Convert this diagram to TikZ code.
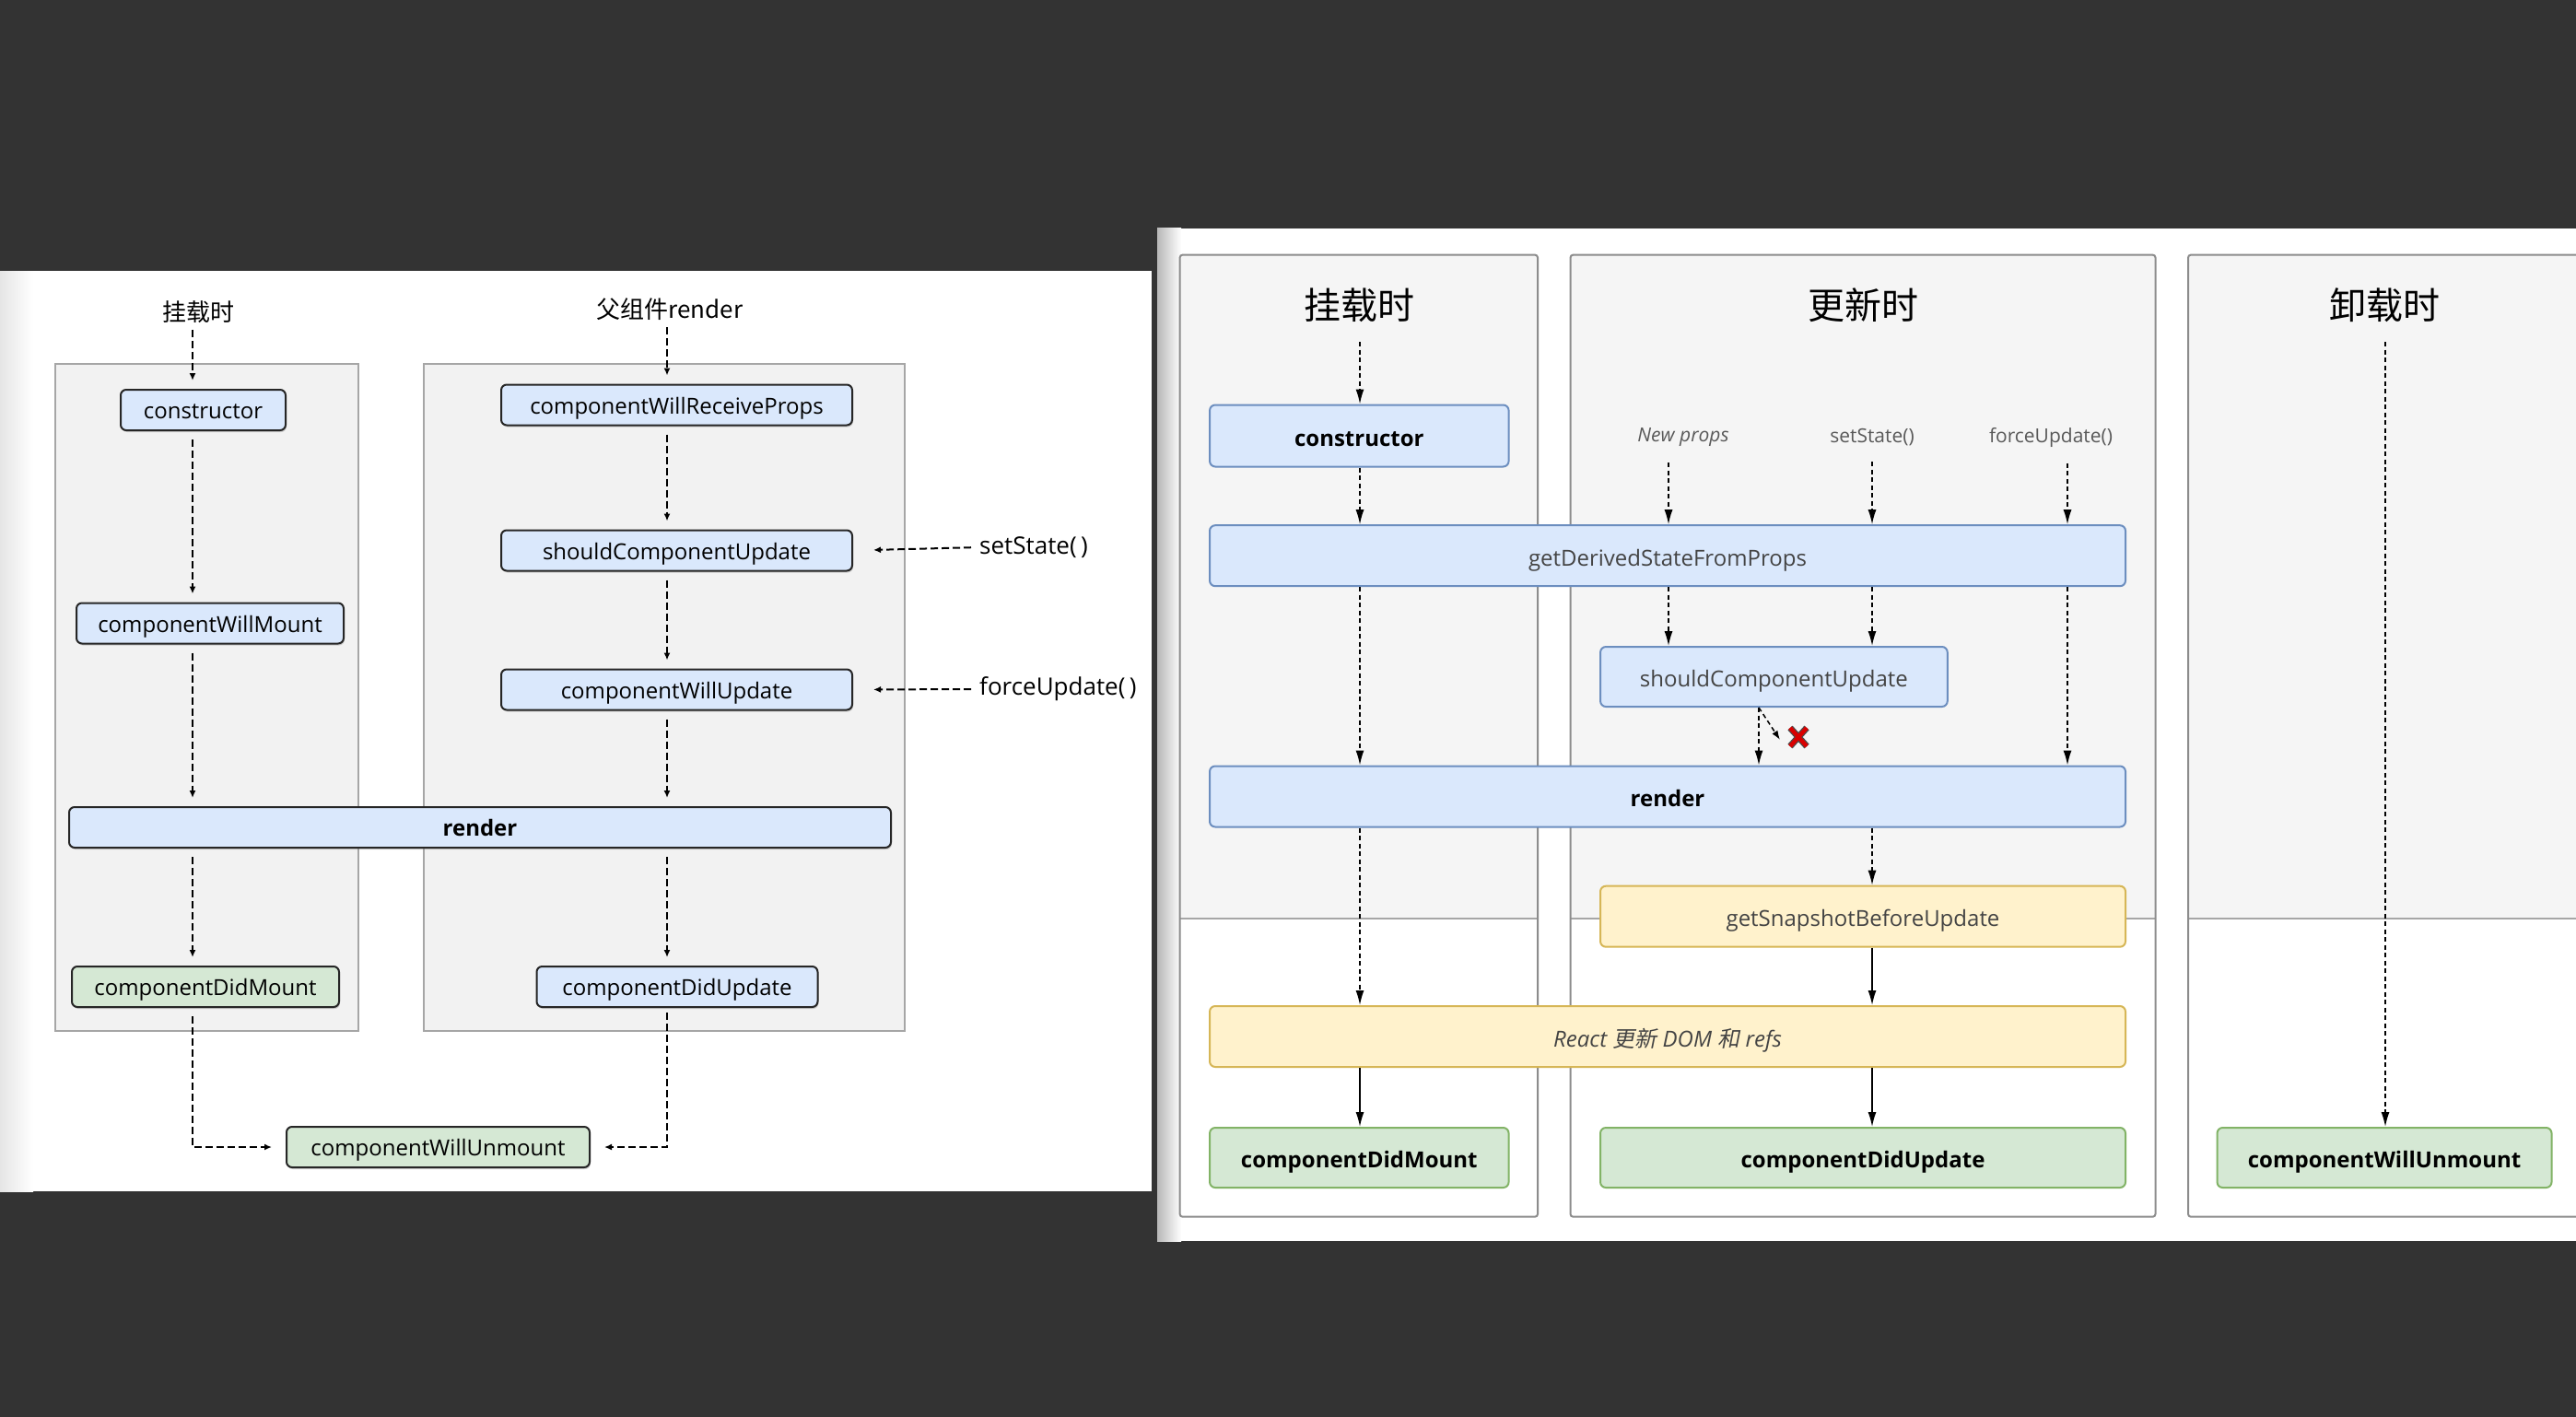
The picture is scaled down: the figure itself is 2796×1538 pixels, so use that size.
\documentclass[tikz,border=0pt]{standalone}
\usepackage{fontspec}
\setmainfont{Open Sans}
\newfontfamily\cjk{Noto Sans CJK SC}
\newfontfamily\cjkit[FakeSlant=0.2]{Noto Sans CJK SC}
\usetikzlibrary{arrows.meta,shadows}

\definecolor{darkbg}{HTML}{333333}
\definecolor{boxblue}{HTML}{DAE8FC}
\definecolor{lineblue}{HTML}{6C8EBF}
\definecolor{boxgreen}{HTML}{D5E8D4}
\definecolor{linegreen}{HTML}{82B366}
\definecolor{boxyellow}{HTML}{FFF2CC}
\definecolor{lineyellow}{HTML}{D6B656}
\definecolor{colfill}{HTML}{F5F5F5}
\definecolor{oldfill}{HTML}{F2F2F2}
\definecolor{textgray}{HTML}{444444}

\tikzset{
  oldbox/.style={draw=black!85, line width=2pt, rounded corners=6pt, fill=boxblue,
    minimum height=44pt, inner sep=0pt, text height=19pt, text depth=0pt,
    font=\fontsize{24}{28}\selectfont,
    drop shadow={shadow xshift=1pt, shadow yshift=-2pt, opacity=0.35}},
  oldgreen/.style={oldbox, fill=boxgreen},
  oldcol/.style={draw=black!35, line width=2pt, fill=oldfill},
  oldtitle/.style={font=\cjk\fontsize{26}{30}\selectfont, inner sep=3pt},
  oldlabel/.style={font=\fontsize{26}{30}\selectfont, inner sep=0pt, anchor=west},
  oldarrow/.style={-{Latex[length=8pt,width=7pt]}, line width=2pt,
    dash pattern=on 8pt off 4pt, shorten <=9pt, shorten >=9pt},
  newbox/.style={draw=lineblue, line width=2pt, rounded corners=6pt, fill=boxblue,
    inner sep=0pt, text height=22pt, text depth=0pt, text=textgray,
    font=\fontsize{24}{28}\selectfont},
  newgreen/.style={newbox, draw=linegreen, fill=boxgreen, text=black, font=\bfseries\fontsize{24}{28}\selectfont},
  newyellow/.style={newbox, draw=lineyellow, fill=boxyellow},
  newtitle/.style={font=\cjk\fontsize{40}{46}\selectfont, inner sep=3pt},
  newlabel/.style={font=\fontsize{21}{25}\selectfont, text=black!65, inner sep=3pt},
  newcol/.style={draw=black!45, line width=2pt, rounded corners=3pt},
  newarrow/.style={-{Latex[length=16pt,width=9pt]}, line width=1.5pt, dash pattern=on 5pt off 3.5pt},
  solidarrow/.style={-{Latex[length=16pt,width=9pt]}, line width=1.5pt}
}

\begin{document}
\begin{tikzpicture}[x=1pt,y=-1pt]

\clip (0,0) rectangle (2796,1538);
\fill [darkbg] (0,0) rectangle (2796,1538);
\fill [white] (0,294) rectangle (1250,1293);
\shade [left color=black!10, right color=white] (0,294) rectangle (36,1293);
\fill [white] (1256,248) rectangle (2796,1347);
\shade [left color=black!28, right color=white] (1256,248) rectangle (1282,1347);

%% old lifecycle
\draw [oldcol] (59.5,395) rectangle (389,1119);
\draw [oldcol] (460,395) rectangle (981.5,1119);

\node [oldtitle] (lmount) at (215,338.5) {挂载时};
\node [oldtitle] (lparent) at (727,336) {父组件render};

\node [oldbox, minimum width=179pt] (lcons) at (220.5,445) {constructor};
\node [oldbox, minimum width=290pt] (lcwm) at (228,676.5) {componentWillMount};
\node [oldbox, minimum width=892pt, font=\bfseries\fontsize{24}{28}\selectfont] (lrender) at (521,898) {render};
\node [oldgreen, minimum width=290pt] (lcdm) at (223,1071) {componentDidMount};

\node [oldbox, minimum width=381pt] (lcwrp) at (734.5,439.5) {componentWillReceiveProps};
\node [oldbox, minimum width=381pt] (lscu) at (734.5,597.5) {shouldComponentUpdate};
\node [oldbox, minimum width=381pt] (lcwu) at (734.5,748.5) {componentWillUpdate};
\node [oldbox, minimum width=305pt] (lcdu) at (735,1071) {componentDidUpdate};
\node [oldgreen, minimum width=329pt] (lcwun) at (475.5,1245) {componentWillUnmount};

\node [oldlabel] (lset) at (1063,594) {setState(\,)};
\node [oldlabel] (lforce) at (1063,748) {forceUpdate(\,)};

\coordinate (lmx) at (209,0);
\coordinate (lux) at (724,0);

\draw [oldarrow, shorten <=4pt] (lmount.south -| lmx) -- (lcons.north -| lmx);
\draw [oldarrow] (lcons.south -| lmx) -- (lcwm.north -| lmx);
\draw [oldarrow] (lcwm.south -| lmx) -- (lrender.north -| lmx);
\draw [oldarrow] (lrender.south -| lmx) -- (lcdm.north -| lmx);
\draw [oldarrow, shorten >=15pt] (lcdm.south -| lmx) |- (lcwun.west);

\draw [oldarrow, shorten <=4pt] (lparent.south -| lux) -- (lcwrp.north -| lux);
\draw [oldarrow] (lcwrp.south -| lux) -- (lscu.north -| lux);
\draw [oldarrow] (lscu.south -| lux) -- (lcwu.north -| lux);
\draw [oldarrow] (lcwu.south -| lux) -- (lrender.north -| lux);
\draw [oldarrow] (lrender.south -| lux) -- (lcdu.north -| lux);
\draw [oldarrow, shorten <=5pt, shorten >=15pt] (lcdu.south -| lux) |- (lcwun.east);

\draw [oldarrow, shorten >=22pt] (lset.west) -- (lscu.east);
\draw [oldarrow, shorten >=22pt] (lforce.west) -- (lcwu.east);

%% new lifecycle
\foreach \a/\b in {1280.6/1669, 1704.5/2339.5, 2375/2840} {
  \fill [colfill] (\a,276.6) rectangle (\b,997);
  \draw [draw=black!35, line width=2pt] (\a,997) -- (\b,997);
  \draw [newcol] (\a,276.6) rectangle (\b,1320.7);
}

\node [newtitle] (rmount) at (1475,331.5) {挂载时};
\node [newtitle] (rupdate) at (2022,331.5) {更新时};
\node [newtitle] (runmount) at (2588,331.5) {卸载时};

\node [newlabel, font=\itshape\fontsize{21}{25}\selectfont] (rnew) at (1827,475) {New props};
\node [newlabel] (rset) at (2032,475) {setState()};
\node [newlabel] (rforce) at (2226,475) {forceUpdate()};

\node [newbox, minimum width=324.5pt, minimum height=67pt, text=black, font=\bfseries\fontsize{24}{28}\selectfont] (rcons) at (1475.3,473) {constructor};
\node [newbox, minimum width=994pt, minimum height=66pt] (rgdsfp) at (1810,603.2) {getDerivedStateFromProps};
\node [newbox, minimum width=376.7pt, minimum height=65pt] (rscu) at (1925.4,734.5) {shouldComponentUpdate};
\node [newbox, minimum width=994pt, minimum height=66pt, text=black, font=\bfseries\fontsize{24}{28}\selectfont] (rrender) at (1810,864.5) {render};
\node [newyellow, minimum width=570pt, minimum height=66pt] (rgsbu) at (2022,994.7) {getSnapshotBeforeUpdate};
\node [newyellow, minimum width=994pt, minimum height=66pt, font=\itshape\fontsize{24}{28}\selectfont] (rdom) at (1810,1125) {React {\cjkit 更新} DOM {\cjkit 和} refs};
\node [newgreen, minimum width=324.5pt, minimum height=65pt] (rcdm) at (1475.3,1256.5) {componentDidMount};
\node [newgreen, minimum width=570pt, minimum height=65pt] (rcdu) at (2022,1256.5) {componentDidUpdate};
\node [newgreen, minimum width=363pt, minimum height=65pt] (rcwun) at (2588,1256.5) {componentWillUnmount};

\coordinate (rmx) at (1476,0);
\coordinate (rnx) at (1811,0);
\coordinate (rsx) at (2032,0);
\coordinate (rfx) at (2244,0);
\coordinate (rkx) at (1909,0);
\coordinate (rux) at (2589,0);
\coordinate (rcross) at (1952,800);

\draw [newarrow, shorten <=18pt] (rmount.south -| rmx) -- (rcons.north -| rmx);
\draw [newarrow] (rcons.south -| rmx) -- (rgdsfp.north -| rmx);
\draw [newarrow, shorten <=14pt] (rnew.south -| rnx) -- (rgdsfp.north -| rnx);
\draw [newarrow, shorten <=14pt] (rset.south -| rsx) -- (rgdsfp.north -| rsx);
\draw [newarrow, shorten <=14pt] (rforce.south -| rfx) -- (rgdsfp.north -| rfx);
\draw [newarrow] (rgdsfp.south -| rnx) -- (rscu.north -| rnx);
\draw [newarrow] (rgdsfp.south -| rsx) -- (rscu.north -| rsx);
\draw [newarrow] (rgdsfp.south -| rfx) -- (rrender.north -| rfx);
\draw [newarrow] (rgdsfp.south -| rmx) -- (rrender.north -| rmx);
\draw [newarrow] (rscu.south -| rkx) -- (rrender.north -| rkx);
\draw [newarrow, -{Latex[length=10pt,width=7pt]}] (rscu.south -| rkx) -- ([xshift=-20pt,yshift=-3pt]rcross);
\draw [newarrow] (rrender.south -| rsx) -- (rgsbu.north -| rsx);
\draw [newarrow] (rrender.south -| rmx) -- (rdom.north -| rmx);
\draw [solidarrow] (rgsbu.south -| rsx) -- (rdom.north -| rsx);
\draw [solidarrow] (rdom.south -| rmx) -- (rcdm.north -| rmx);
\draw [solidarrow] (rdom.south -| rsx) -- (rcdu.north -| rsx);
\draw [newarrow, shorten <=18pt] (runmount.south -| rux) -- (rcwun.north -| rux);

% red cross
\draw [line width=7pt, black!70] ([shift={(-9,-10)}]rcross) -- ([shift={(9,10)}]rcross)
  ([shift={(9,-10)}]rcross) -- ([shift={(-9,10)}]rcross);
\draw [line width=4.5pt, red!85!black] ([shift={(-9,-10)}]rcross) -- ([shift={(9,10)}]rcross)
  ([shift={(9,-10)}]rcross) -- ([shift={(-9,10)}]rcross);

\end{tikzpicture}
\end{document}
